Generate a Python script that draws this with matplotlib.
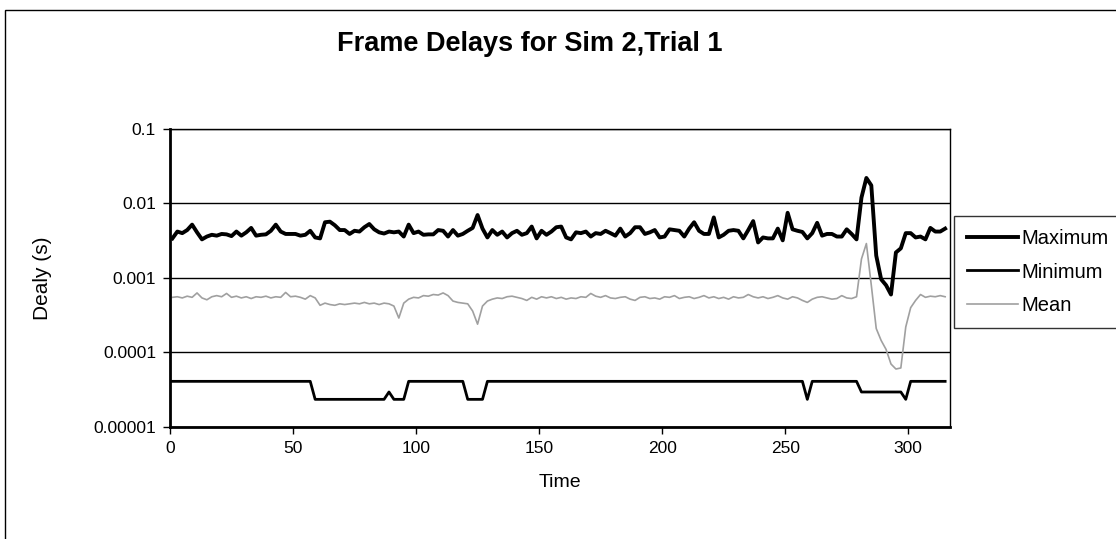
import numpy as np
import matplotlib
matplotlib.use("Agg")
import matplotlib.pyplot as plt
from matplotlib.patches import Rectangle

plt.rcParams['font.family'] = ['Liberation Sans', 'DejaVu Sans']

# time axis (every 2nd sample)
time = np.arange(1, 316, 2)

# maximum delay, in ms
max_ms = [3.4, 4.2, 4.0, 4.4, 5.2, 4.1, 3.3, 3.6, 3.8, 3.7,
          3.9, 3.85, 3.65, 4.2, 3.7, 4.1, 4.7, 3.7, 3.8, 3.85,
          4.3, 5.2, 4.2, 3.9, 3.9, 3.9, 3.7, 3.8, 4.3, 3.5,
          3.4, 5.6, 5.7, 5.1, 4.4, 4.4, 3.9, 4.3, 4.2, 4.8,
          5.3, 4.5, 4.1, 3.95, 4.2, 4.1, 4.2, 3.6, 5.2, 4.0,
          4.2, 3.8, 3.85, 3.85, 4.4, 4.3, 3.6, 4.4, 3.7, 3.9,
          4.3, 4.7, 7.0, 4.6, 3.5, 4.4, 3.8, 4.2, 3.5, 4.0,
          4.3, 3.8, 4.0, 4.9, 3.4, 4.3, 3.8, 4.2, 4.8, 4.9,
          3.5, 3.3, 4.1, 4.0, 4.2, 3.6, 4.0, 3.9, 4.3, 4.0,
          3.7, 4.6, 3.6, 4.0, 4.8, 4.8, 3.9, 4.1, 4.4, 3.5,
          3.6, 4.5, 4.4, 4.3, 3.6, 4.6, 5.6, 4.3, 3.9, 3.9,
          6.5, 3.5, 3.8, 4.3, 4.4, 4.3, 3.4, 4.4, 5.8, 3.0,
          3.5, 3.4, 3.4, 4.6, 3.2, 7.5, 4.5, 4.3, 4.15, 3.4,
          4.0, 5.5, 3.7, 3.9, 3.9, 3.6, 3.6, 4.5, 3.9, 3.3,
          12.0, 22.0, 17.5, 2.0, 0.96, 0.8, 0.6, 2.2, 2.5, 4.0,
          4.0, 3.5, 3.6, 3.3, 4.7, 4.2, 4.2, 4.6]

# minimum delay, in units of 1e-5 s
min_e5 = ([4.1] * 29 + [2.35] * 15 + [2.95] + [2.35] * 3 + [4.1] * 12
          + [2.35] * 4 + [4.1] * 65 + [2.35] + [4.1] * 10 + [2.95] * 9
          + [2.35] + [4.1] * 8)

# mean delay, in units of 1e-4 s
mean_e4 = [5.5, 5.6, 5.4, 5.7, 5.5, 6.3, 5.4, 5.1, 5.6, 5.8,
           5.6, 6.2, 5.5, 5.7, 5.4, 5.6, 5.3, 5.6, 5.5, 5.7,
           5.4, 5.6, 5.5, 6.4, 5.6, 5.7, 5.5, 5.2, 5.8, 5.4,
           4.3, 4.6, 4.4, 4.3, 4.5, 4.4, 4.5, 4.6, 4.5, 4.7,
           4.5, 4.6, 4.4, 4.6, 4.5, 4.2, 2.9, 4.6, 5.2, 5.5,
           5.4, 5.8, 5.7, 6.0, 5.9, 6.3, 5.8, 4.9, 4.7, 4.6,
           4.5, 3.6, 2.4, 4.2, 4.9, 5.2, 5.4, 5.3, 5.6, 5.7,
           5.5, 5.3, 5.0, 5.5, 5.2, 5.6, 5.4, 5.6, 5.3, 5.5,
           5.2, 5.4, 5.3, 5.6, 5.5, 6.2, 5.7, 5.5, 5.8, 5.4,
           5.3, 5.5, 5.6, 5.2, 5.0, 5.5, 5.6, 5.3, 5.4, 5.2,
           5.6, 5.5, 5.8, 5.3, 5.5, 5.6, 5.3, 5.5, 5.8, 5.4,
           5.6, 5.3, 5.5, 5.2, 5.6, 5.4, 5.5, 6.0, 5.6, 5.4,
           5.6, 5.3, 5.5, 5.8, 5.4, 5.2, 5.6, 5.4, 5.0, 4.7,
           5.2, 5.5, 5.6, 5.4, 5.2, 5.3, 5.8, 5.4, 5.3, 5.6,
           18.0, 29.0, 8.0, 2.1, 1.45, 1.1, 0.7, 0.6, 0.62, 2.2,
           4.0, 5.0, 6.0, 5.5, 5.7, 5.6, 5.8, 5.6]

y_ticks = [0.00001, 0.0001, 0.001, 0.01, 0.1]
y_labels = ['0.00001', '0.0001', '0.001', '0.01', '0.1']
x_ticks = [0, 50, 100, 150, 200, 250, 300]

fig = plt.figure(figsize=(11.16, 5.39), dpi=100)
ax = fig.add_axes([0.1523, 0.2078, 0.699, 0.5529])

ax.plot(time, np.array(max_ms) * 1e-3, color='black', lw=2.8, label='Maximum')
ax.plot(time, np.array(min_e5) * 1e-5, color='black', lw=2.0, label='Minimum')
ax.plot(time, np.array(mean_e4) * 1e-4, color='#a0a0a0', lw=1.2, label='Mean')

ax.set_yscale('log')
ax.set_ylim(0.00001, 0.1)
ax.set_xlim(0, 317)
ax.set_yticks(y_ticks)
ax.set_yticklabels(y_labels)
ax.minorticks_off()
ax.set_xticks(x_ticks)
ax.yaxis.grid(True, color='black', lw=1.0)
ax.set_axisbelow(True)
for s in ax.spines.values():
    s.set_color('black')
    s.set_linewidth(1.0)
ax.spines['left'].set_linewidth(2.0)
ax.spines['bottom'].set_linewidth(2.0)
ax.tick_params(axis='both', direction='out', length=5, width=1, labelsize=12.5, pad=5)

ax.set_xlabel('Time', fontsize=14, labelpad=13)
ax.set_ylabel('Dealy (s)', fontsize=15, labelpad=30)
fig.text(530 / 1116, 1 - 44 / 539, 'Frame Delays for Sim 2,Trial 1',
         ha='center', va='center', fontsize=19.5, fontweight='bold')

leg = ax.legend(loc='center left', bbox_to_anchor=(1.0, 0.52), fontsize=14.5,
                frameon=True, fancybox=False, edgecolor='black',
                borderpad=0.65, labelspacing=0.7, handlelength=2.5,
                handletextpad=0.2, borderaxespad=0.2)
leg.get_frame().set_linewidth(1.0)

# outer chart border
fig.patches.append(Rectangle((5 / 1116, -0.01), 1.2, 1 - 10 / 539 + 0.01,
                             transform=fig.transFigure, fill=False,
                             edgecolor='black', lw=1.0))

fig.savefig('out.png', dpi=100)
